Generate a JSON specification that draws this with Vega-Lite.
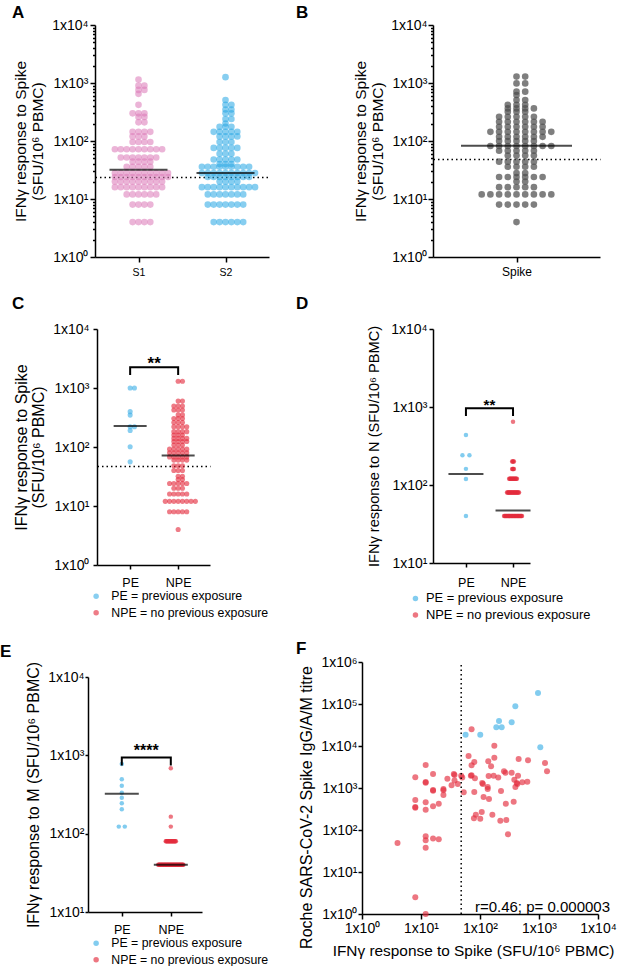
{
"$schema": "https://vega.github.io/schema/vega-lite/v6.json",
"autosize": {"type": "none"},
"padding": {"left": 95, "top": 25, "right": 522, "bottom": 941},
"background": "white",
"columns": 2,
"align": "none",
"bounds": "flush",
"spacing": {"row": 72, "column": 164},
"resolve": {"scale": {"color": "independent"}, "legend": {"color": "independent"}},
"datasets": {
"pts": [
{"p":"A","g":"S1","v":4},{"p":"A","g":"S1","v":4},{"p":"A","g":"S1","v":4},{"p":"A","g":"S1","v":4},
{"p":"A","g":"S1","v":8},{"p":"A","g":"S1","v":8},{"p":"A","g":"S1","v":8},{"p":"A","g":"S1","v":8},
{"p":"A","g":"S1","v":12},{"p":"A","g":"S1","v":12},{"p":"A","g":"S1","v":12},{"p":"A","g":"S1","v":12},{"p":"A","g":"S1","v":12},{"p":"A","g":"S1","v":12},
{"p":"A","g":"S1","v":16},{"p":"A","g":"S1","v":16},{"p":"A","g":"S1","v":16},{"p":"A","g":"S1","v":16},{"p":"A","g":"S1","v":16},{"p":"A","g":"S1","v":16},{"p":"A","g":"S1","v":16},{"p":"A","g":"S1","v":16},{"p":"A","g":"S1","v":16},
{"p":"A","g":"S1","v":20},{"p":"A","g":"S1","v":20},{"p":"A","g":"S1","v":20},{"p":"A","g":"S1","v":20},{"p":"A","g":"S1","v":20},{"p":"A","g":"S1","v":20},{"p":"A","g":"S1","v":20},{"p":"A","g":"S1","v":20},{"p":"A","g":"S1","v":20},
{"p":"A","g":"S1","v":24},{"p":"A","g":"S1","v":24},{"p":"A","g":"S1","v":24},{"p":"A","g":"S1","v":24},{"p":"A","g":"S1","v":24},{"p":"A","g":"S1","v":24},{"p":"A","g":"S1","v":24},{"p":"A","g":"S1","v":24},{"p":"A","g":"S1","v":24},{"p":"A","g":"S1","v":24},
{"p":"A","g":"S1","v":28},{"p":"A","g":"S1","v":28},{"p":"A","g":"S1","v":28},{"p":"A","g":"S1","v":28},{"p":"A","g":"S1","v":28},{"p":"A","g":"S1","v":28},{"p":"A","g":"S1","v":28},{"p":"A","g":"S1","v":28},{"p":"A","g":"S1","v":28},{"p":"A","g":"S1","v":28},
{"p":"A","g":"S1","v":36},{"p":"A","g":"S1","v":36},{"p":"A","g":"S1","v":36},{"p":"A","g":"S1","v":36},{"p":"A","g":"S1","v":36},
{"p":"A","g":"S1","v":44},{"p":"A","g":"S1","v":44},{"p":"A","g":"S1","v":44},{"p":"A","g":"S1","v":44},
{"p":"A","g":"S1","v":52},{"p":"A","g":"S1","v":52},{"p":"A","g":"S1","v":52},{"p":"A","g":"S1","v":52},{"p":"A","g":"S1","v":52},{"p":"A","g":"S1","v":52},{"p":"A","g":"S1","v":52},
{"p":"A","g":"S1","v":72},{"p":"A","g":"S1","v":72},{"p":"A","g":"S1","v":72},{"p":"A","g":"S1","v":72},{"p":"A","g":"S1","v":72},{"p":"A","g":"S1","v":72},{"p":"A","g":"S1","v":72},{"p":"A","g":"S1","v":72},{"p":"A","g":"S1","v":72},
{"p":"A","g":"S1","v":96},{"p":"A","g":"S1","v":96},{"p":"A","g":"S1","v":96},{"p":"A","g":"S1","v":96},
{"p":"A","g":"S1","v":120},{"p":"A","g":"S1","v":120},{"p":"A","g":"S1","v":120},
{"p":"A","g":"S1","v":144},{"p":"A","g":"S1","v":144},{"p":"A","g":"S1","v":144},{"p":"A","g":"S1","v":144},
{"p":"A","g":"S1","v":210},{"p":"A","g":"S1","v":210},{"p":"A","g":"S1","v":260},{"p":"A","g":"S1","v":260},
{"p":"A","g":"S1","v":300},{"p":"A","g":"S1","v":300},{"p":"A","g":"S1","v":300},
{"p":"A","g":"S1","v":420},{"p":"A","g":"S1","v":650},{"p":"A","g":"S1","v":760},{"p":"A","g":"S1","v":760},{"p":"A","g":"S1","v":900},{"p":"A","g":"S1","v":900},{"p":"A","g":"S1","v":1150},
{"p":"A","g":"S2","v":4},{"p":"A","g":"S2","v":4},{"p":"A","g":"S2","v":4},{"p":"A","g":"S2","v":4},{"p":"A","g":"S2","v":4},{"p":"A","g":"S2","v":4},
{"p":"A","g":"S2","v":8},{"p":"A","g":"S2","v":8},{"p":"A","g":"S2","v":8},{"p":"A","g":"S2","v":8},{"p":"A","g":"S2","v":8},{"p":"A","g":"S2","v":8},{"p":"A","g":"S2","v":8},
{"p":"A","g":"S2","v":12},{"p":"A","g":"S2","v":12},{"p":"A","g":"S2","v":12},{"p":"A","g":"S2","v":12},{"p":"A","g":"S2","v":12},{"p":"A","g":"S2","v":12},{"p":"A","g":"S2","v":12},
{"p":"A","g":"S2","v":16},{"p":"A","g":"S2","v":16},{"p":"A","g":"S2","v":16},{"p":"A","g":"S2","v":16},{"p":"A","g":"S2","v":16},{"p":"A","g":"S2","v":16},{"p":"A","g":"S2","v":16},{"p":"A","g":"S2","v":16},{"p":"A","g":"S2","v":16},{"p":"A","g":"S2","v":16},
{"p":"A","g":"S2","v":20},{"p":"A","g":"S2","v":20},{"p":"A","g":"S2","v":20},{"p":"A","g":"S2","v":20},
{"p":"A","g":"S2","v":24},{"p":"A","g":"S2","v":24},{"p":"A","g":"S2","v":24},{"p":"A","g":"S2","v":24},{"p":"A","g":"S2","v":24},{"p":"A","g":"S2","v":24},{"p":"A","g":"S2","v":24},{"p":"A","g":"S2","v":24},
{"p":"A","g":"S2","v":28},{"p":"A","g":"S2","v":28},{"p":"A","g":"S2","v":28},{"p":"A","g":"S2","v":28},{"p":"A","g":"S2","v":28},{"p":"A","g":"S2","v":28},{"p":"A","g":"S2","v":28},{"p":"A","g":"S2","v":28},{"p":"A","g":"S2","v":28},{"p":"A","g":"S2","v":28},
{"p":"A","g":"S2","v":36},{"p":"A","g":"S2","v":36},{"p":"A","g":"S2","v":36},{"p":"A","g":"S2","v":36},{"p":"A","g":"S2","v":36},{"p":"A","g":"S2","v":36},{"p":"A","g":"S2","v":36},{"p":"A","g":"S2","v":36},{"p":"A","g":"S2","v":36},
{"p":"A","g":"S2","v":40},{"p":"A","g":"S2","v":40},{"p":"A","g":"S2","v":40},
{"p":"A","g":"S2","v":48},{"p":"A","g":"S2","v":48},{"p":"A","g":"S2","v":48},{"p":"A","g":"S2","v":48},{"p":"A","g":"S2","v":48},
{"p":"A","g":"S2","v":60},{"p":"A","g":"S2","v":60},{"p":"A","g":"S2","v":60},
{"p":"A","g":"S2","v":76},{"p":"A","g":"S2","v":76},{"p":"A","g":"S2","v":76},{"p":"A","g":"S2","v":76},{"p":"A","g":"S2","v":76},
{"p":"A","g":"S2","v":96},{"p":"A","g":"S2","v":96},{"p":"A","g":"S2","v":96},
{"p":"A","g":"S2","v":120},{"p":"A","g":"S2","v":120},{"p":"A","g":"S2","v":120},{"p":"A","g":"S2","v":120},
{"p":"A","g":"S2","v":144},{"p":"A","g":"S2","v":144},{"p":"A","g":"S2","v":144},{"p":"A","g":"S2","v":144},{"p":"A","g":"S2","v":144},
{"p":"A","g":"S2","v":176},{"p":"A","g":"S2","v":176},{"p":"A","g":"S2","v":176},{"p":"A","g":"S2","v":200},
{"p":"A","g":"S2","v":240},{"p":"A","g":"S2","v":240},{"p":"A","g":"S2","v":300},{"p":"A","g":"S2","v":300},
{"p":"A","g":"S2","v":350},{"p":"A","g":"S2","v":350},{"p":"A","g":"S2","v":420},{"p":"A","g":"S2","v":420},
{"p":"A","g":"S2","v":510},{"p":"A","g":"S2","v":1260},
{"p":"B","g":"Spike","v":4},
{"p":"B","g":"Spike","v":8},{"p":"B","g":"Spike","v":8},{"p":"B","g":"Spike","v":8},{"p":"B","g":"Spike","v":8},{"p":"B","g":"Spike","v":8},
{"p":"B","g":"Spike","v":12},{"p":"B","g":"Spike","v":12},{"p":"B","g":"Spike","v":12},{"p":"B","g":"Spike","v":12},{"p":"B","g":"Spike","v":12},{"p":"B","g":"Spike","v":12},{"p":"B","g":"Spike","v":12},{"p":"B","g":"Spike","v":12},{"p":"B","g":"Spike","v":12},
{"p":"B","g":"Spike","v":16},{"p":"B","g":"Spike","v":16},{"p":"B","g":"Spike","v":16},{"p":"B","g":"Spike","v":16},{"p":"B","g":"Spike","v":16},
{"p":"B","g":"Spike","v":20},{"p":"B","g":"Spike","v":20},
{"p":"B","g":"Spike","v":24},{"p":"B","g":"Spike","v":24},{"p":"B","g":"Spike","v":24},{"p":"B","g":"Spike","v":24},{"p":"B","g":"Spike","v":24},{"p":"B","g":"Spike","v":24},
{"p":"B","g":"Spike","v":28},{"p":"B","g":"Spike","v":28},
{"p":"B","g":"Spike","v":36},{"p":"B","g":"Spike","v":36},{"p":"B","g":"Spike","v":36},{"p":"B","g":"Spike","v":36},
{"p":"B","g":"Spike","v":44},{"p":"B","g":"Spike","v":44},{"p":"B","g":"Spike","v":44},{"p":"B","g":"Spike","v":44},{"p":"B","g":"Spike","v":44},
{"p":"B","g":"Spike","v":56},{"p":"B","g":"Spike","v":56},{"p":"B","g":"Spike","v":56},{"p":"B","g":"Spike","v":56},
{"p":"B","g":"Spike","v":68},{"p":"B","g":"Spike","v":68},{"p":"B","g":"Spike","v":68},{"p":"B","g":"Spike","v":68},{"p":"B","g":"Spike","v":68},
{"p":"B","g":"Spike","v":82},{"p":"B","g":"Spike","v":82},{"p":"B","g":"Spike","v":82},{"p":"B","g":"Spike","v":82},{"p":"B","g":"Spike","v":82},{"p":"B","g":"Spike","v":82},{"p":"B","g":"Spike","v":82},{"p":"B","g":"Spike","v":82},
{"p":"B","g":"Spike","v":100},{"p":"B","g":"Spike","v":100},{"p":"B","g":"Spike","v":100},{"p":"B","g":"Spike","v":100},{"p":"B","g":"Spike","v":100},
{"p":"B","g":"Spike","v":118},{"p":"B","g":"Spike","v":118},{"p":"B","g":"Spike","v":118},{"p":"B","g":"Spike","v":118},{"p":"B","g":"Spike","v":118},{"p":"B","g":"Spike","v":118},
{"p":"B","g":"Spike","v":144},{"p":"B","g":"Spike","v":144},{"p":"B","g":"Spike","v":144},{"p":"B","g":"Spike","v":144},{"p":"B","g":"Spike","v":144},{"p":"B","g":"Spike","v":144},{"p":"B","g":"Spike","v":144},{"p":"B","g":"Spike","v":144},
{"p":"B","g":"Spike","v":176},{"p":"B","g":"Spike","v":176},{"p":"B","g":"Spike","v":176},{"p":"B","g":"Spike","v":176},{"p":"B","g":"Spike","v":176},{"p":"B","g":"Spike","v":176},
{"p":"B","g":"Spike","v":215},{"p":"B","g":"Spike","v":215},{"p":"B","g":"Spike","v":215},{"p":"B","g":"Spike","v":215},{"p":"B","g":"Spike","v":215},{"p":"B","g":"Spike","v":215},
{"p":"B","g":"Spike","v":262},{"p":"B","g":"Spike","v":262},{"p":"B","g":"Spike","v":262},{"p":"B","g":"Spike","v":262},{"p":"B","g":"Spike","v":262},
{"p":"B","g":"Spike","v":320},{"p":"B","g":"Spike","v":320},{"p":"B","g":"Spike","v":320},
{"p":"B","g":"Spike","v":365},{"p":"B","g":"Spike","v":365},{"p":"B","g":"Spike","v":365},{"p":"B","g":"Spike","v":365},
{"p":"B","g":"Spike","v":420},{"p":"B","g":"Spike","v":420},{"p":"B","g":"Spike","v":420},
{"p":"B","g":"Spike","v":510},{"p":"B","g":"Spike","v":510},{"p":"B","g":"Spike","v":620},
{"p":"B","g":"Spike","v":710},{"p":"B","g":"Spike","v":710},{"p":"B","g":"Spike","v":985},{"p":"B","g":"Spike","v":985},
{"p":"B","g":"Spike","v":1290},{"p":"B","g":"Spike","v":1290},
{"p":"C","g":"PE","v":1000},{"p":"C","g":"PE","v":1000},{"p":"C","g":"PE","v":397},{"p":"C","g":"PE","v":347},
{"p":"C","g":"PE","v":220},{"p":"C","g":"PE","v":220},{"p":"C","g":"PE","v":190},{"p":"C","g":"PE","v":101},{"p":"C","g":"PE","v":56},
{"p":"C","g":"NPE","v":4},
{"p":"C","g":"NPE","v":8},{"p":"C","g":"NPE","v":8},{"p":"C","g":"NPE","v":8},{"p":"C","g":"NPE","v":8},{"p":"C","g":"NPE","v":8},
{"p":"C","g":"NPE","v":12},{"p":"C","g":"NPE","v":12},{"p":"C","g":"NPE","v":12},{"p":"C","g":"NPE","v":12},{"p":"C","g":"NPE","v":12},{"p":"C","g":"NPE","v":12},{"p":"C","g":"NPE","v":12},{"p":"C","g":"NPE","v":12},
{"p":"C","g":"NPE","v":16},{"p":"C","g":"NPE","v":16},{"p":"C","g":"NPE","v":16},{"p":"C","g":"NPE","v":16},{"p":"C","g":"NPE","v":16},
{"p":"C","g":"NPE","v":20},{"p":"C","g":"NPE","v":20},{"p":"C","g":"NPE","v":20},
{"p":"C","g":"NPE","v":24},{"p":"C","g":"NPE","v":24},{"p":"C","g":"NPE","v":24},{"p":"C","g":"NPE","v":24},{"p":"C","g":"NPE","v":24},
{"p":"C","g":"NPE","v":28},{"p":"C","g":"NPE","v":28},{"p":"C","g":"NPE","v":32},{"p":"C","g":"NPE","v":32},
{"p":"C","g":"NPE","v":40},{"p":"C","g":"NPE","v":40},{"p":"C","g":"NPE","v":40},
{"p":"C","g":"NPE","v":48},{"p":"C","g":"NPE","v":48},{"p":"C","g":"NPE","v":48},
{"p":"C","g":"NPE","v":60},{"p":"C","g":"NPE","v":60},{"p":"C","g":"NPE","v":60},{"p":"C","g":"NPE","v":60},
{"p":"C","g":"NPE","v":68},{"p":"C","g":"NPE","v":68},{"p":"C","g":"NPE","v":68},{"p":"C","g":"NPE","v":68},{"p":"C","g":"NPE","v":68},
{"p":"C","g":"NPE","v":80},{"p":"C","g":"NPE","v":80},{"p":"C","g":"NPE","v":80},{"p":"C","g":"NPE","v":80},{"p":"C","g":"NPE","v":80},
{"p":"C","g":"NPE","v":92},{"p":"C","g":"NPE","v":92},{"p":"C","g":"NPE","v":92},{"p":"C","g":"NPE","v":92},{"p":"C","g":"NPE","v":92},
{"p":"C","g":"NPE","v":108},{"p":"C","g":"NPE","v":108},{"p":"C","g":"NPE","v":108},
{"p":"C","g":"NPE","v":124},{"p":"C","g":"NPE","v":124},{"p":"C","g":"NPE","v":124},{"p":"C","g":"NPE","v":124},
{"p":"C","g":"NPE","v":140},{"p":"C","g":"NPE","v":140},{"p":"C","g":"NPE","v":140},{"p":"C","g":"NPE","v":140},
{"p":"C","g":"NPE","v":160},{"p":"C","g":"NPE","v":160},{"p":"C","g":"NPE","v":160},
{"p":"C","g":"NPE","v":182},{"p":"C","g":"NPE","v":182},{"p":"C","g":"NPE","v":182},{"p":"C","g":"NPE","v":182},
{"p":"C","g":"NPE","v":220},{"p":"C","g":"NPE","v":220},{"p":"C","g":"NPE","v":220},{"p":"C","g":"NPE","v":220},
{"p":"C","g":"NPE","v":260},{"p":"C","g":"NPE","v":260},{"p":"C","g":"NPE","v":260},
{"p":"C","g":"NPE","v":305},{"p":"C","g":"NPE","v":305},{"p":"C","g":"NPE","v":305},
{"p":"C","g":"NPE","v":350},{"p":"C","g":"NPE","v":350},
{"p":"C","g":"NPE","v":425},{"p":"C","g":"NPE","v":425},{"p":"C","g":"NPE","v":425},
{"p":"C","g":"NPE","v":495},{"p":"C","g":"NPE","v":495},{"p":"C","g":"NPE","v":495},
{"p":"C","g":"NPE","v":600},{"p":"C","g":"NPE","v":600},{"p":"C","g":"NPE","v":1300},{"p":"C","g":"NPE","v":1300},
{"p":"D","g":"PE","v":437},{"p":"D","g":"PE","v":240},{"p":"D","g":"PE","v":240},{"p":"D","g":"PE","v":161},{"p":"D","g":"PE","v":119},{"p":"D","g":"PE","v":40},
{"p":"D","g":"NPE","v":40},{"p":"D","g":"NPE","v":40},{"p":"D","g":"NPE","v":40},{"p":"D","g":"NPE","v":40},{"p":"D","g":"NPE","v":40},{"p":"D","g":"NPE","v":40},{"p":"D","g":"NPE","v":40},{"p":"D","g":"NPE","v":40},{"p":"D","g":"NPE","v":40},{"p":"D","g":"NPE","v":40},
{"p":"D","g":"NPE","v":40},{"p":"D","g":"NPE","v":40},{"p":"D","g":"NPE","v":40},{"p":"D","g":"NPE","v":40},{"p":"D","g":"NPE","v":40},{"p":"D","g":"NPE","v":40},{"p":"D","g":"NPE","v":40},{"p":"D","g":"NPE","v":40},{"p":"D","g":"NPE","v":40},{"p":"D","g":"NPE","v":40},
{"p":"D","g":"NPE","v":40},{"p":"D","g":"NPE","v":40},{"p":"D","g":"NPE","v":40},{"p":"D","g":"NPE","v":40},{"p":"D","g":"NPE","v":40},{"p":"D","g":"NPE","v":40},{"p":"D","g":"NPE","v":40},{"p":"D","g":"NPE","v":40},{"p":"D","g":"NPE","v":40},{"p":"D","g":"NPE","v":40},{"p":"D","g":"NPE","v":40},
{"p":"D","g":"NPE","v":80},{"p":"D","g":"NPE","v":80},{"p":"D","g":"NPE","v":80},{"p":"D","g":"NPE","v":80},{"p":"D","g":"NPE","v":80},{"p":"D","g":"NPE","v":80},{"p":"D","g":"NPE","v":80},{"p":"D","g":"NPE","v":80},{"p":"D","g":"NPE","v":80},{"p":"D","g":"NPE","v":80},
{"p":"D","g":"NPE","v":80},{"p":"D","g":"NPE","v":80},{"p":"D","g":"NPE","v":80},{"p":"D","g":"NPE","v":80},{"p":"D","g":"NPE","v":80},{"p":"D","g":"NPE","v":80},{"p":"D","g":"NPE","v":80},{"p":"D","g":"NPE","v":80},{"p":"D","g":"NPE","v":80},{"p":"D","g":"NPE","v":80},{"p":"D","g":"NPE","v":80},
{"p":"D","g":"NPE","v":120},{"p":"D","g":"NPE","v":120},{"p":"D","g":"NPE","v":120},{"p":"D","g":"NPE","v":120},{"p":"D","g":"NPE","v":120},{"p":"D","g":"NPE","v":120},{"p":"D","g":"NPE","v":120},
{"p":"D","g":"NPE","v":120},{"p":"D","g":"NPE","v":120},{"p":"D","g":"NPE","v":120},{"p":"D","g":"NPE","v":120},{"p":"D","g":"NPE","v":120},{"p":"D","g":"NPE","v":120},{"p":"D","g":"NPE","v":120},
{"p":"D","g":"NPE","v":160},{"p":"D","g":"NPE","v":160},{"p":"D","g":"NPE","v":160},{"p":"D","g":"NPE","v":160},
{"p":"D","g":"NPE","v":200},{"p":"D","g":"NPE","v":200},{"p":"D","g":"NPE","v":200},{"p":"D","g":"NPE","v":200},
{"p":"D","g":"NPE","v":645},
{"p":"E","g":"PE","v":776},{"p":"E","g":"PE","v":495},{"p":"E","g":"PE","v":408},{"p":"E","g":"PE","v":333},{"p":"E","g":"PE","v":288},
{"p":"E","g":"PE","v":245},{"p":"E","g":"PE","v":205},{"p":"E","g":"PE","v":123},{"p":"E","g":"PE","v":123},
{"p":"E","g":"NPE","v":40},{"p":"E","g":"NPE","v":40},{"p":"E","g":"NPE","v":40},{"p":"E","g":"NPE","v":40},{"p":"E","g":"NPE","v":40},{"p":"E","g":"NPE","v":40},{"p":"E","g":"NPE","v":40},{"p":"E","g":"NPE","v":40},{"p":"E","g":"NPE","v":40},{"p":"E","g":"NPE","v":40},
{"p":"E","g":"NPE","v":40},{"p":"E","g":"NPE","v":40},{"p":"E","g":"NPE","v":40},{"p":"E","g":"NPE","v":40},{"p":"E","g":"NPE","v":40},{"p":"E","g":"NPE","v":40},{"p":"E","g":"NPE","v":40},{"p":"E","g":"NPE","v":40},{"p":"E","g":"NPE","v":40},{"p":"E","g":"NPE","v":40},
{"p":"E","g":"NPE","v":40},{"p":"E","g":"NPE","v":40},{"p":"E","g":"NPE","v":40},{"p":"E","g":"NPE","v":40},{"p":"E","g":"NPE","v":40},{"p":"E","g":"NPE","v":40},{"p":"E","g":"NPE","v":40},{"p":"E","g":"NPE","v":40},{"p":"E","g":"NPE","v":40},{"p":"E","g":"NPE","v":40},
{"p":"E","g":"NPE","v":40},{"p":"E","g":"NPE","v":40},{"p":"E","g":"NPE","v":40},{"p":"E","g":"NPE","v":40},{"p":"E","g":"NPE","v":40},{"p":"E","g":"NPE","v":40},{"p":"E","g":"NPE","v":40},{"p":"E","g":"NPE","v":40},{"p":"E","g":"NPE","v":40},{"p":"E","g":"NPE","v":40},
{"p":"E","g":"NPE","v":40},{"p":"E","g":"NPE","v":40},{"p":"E","g":"NPE","v":40},
{"p":"E","g":"NPE","v":80},{"p":"E","g":"NPE","v":80},{"p":"E","g":"NPE","v":80},{"p":"E","g":"NPE","v":80},{"p":"E","g":"NPE","v":80},{"p":"E","g":"NPE","v":80},{"p":"E","g":"NPE","v":80},{"p":"E","g":"NPE","v":80},{"p":"E","g":"NPE","v":80},
{"p":"E","g":"NPE","v":80},{"p":"E","g":"NPE","v":80},{"p":"E","g":"NPE","v":80},{"p":"E","g":"NPE","v":80},{"p":"E","g":"NPE","v":80},{"p":"E","g":"NPE","v":80},{"p":"E","g":"NPE","v":80},{"p":"E","g":"NPE","v":80},{"p":"E","g":"NPE","v":80},
{"p":"E","g":"NPE","v":123},{"p":"E","g":"NPE","v":165},{"p":"E","g":"NPE","v":684}
],
"med": [
{"p":"A","g":"S1","m":32},{"p":"A","g":"S2","m":28},
{"p":"B","g":"Spike","m":83},
{"p":"C","g":"PE","m":227},{"p":"C","g":"NPE","m":72},
{"p":"D","g":"PE","m":138},{"p":"D","g":"NPE","m":47},
{"p":"E","g":"PE","m":324},{"p":"E","g":"NPE","m":40}
],
"brk": [
{"p":"C","g":"PE","v":1660,"k":1},{"p":"C","g":"PE","v":2240,"k":2},{"p":"C","g":"NPE","v":2240,"k":3},{"p":"C","g":"NPE","v":1660,"k":4},
{"p":"D","g":"PE","v":769,"k":1},{"p":"D","g":"PE","v":966,"k":2},{"p":"D","g":"NPE","v":966,"k":3},{"p":"D","g":"NPE","v":769,"k":4},
{"p":"E","g":"PE","v":741,"k":1},{"p":"E","g":"PE","v":935,"k":2},{"p":"E","g":"NPE","v":935,"k":3},{"p":"E","g":"NPE","v":741,"k":4}
],
"sig": [
{"p":"C","g":"PE","t":"**","v":2090},
{"p":"D","g":"PE","t":"**","v":926},
{"p":"E","g":"PE","t":"****","v":991},
{"p":"F","t":"r=0.46; p= 0.000003","x":82,"y":1.12}
],
"thr": [{"p":"F","x":48}],
"sc": [
{"g":"NPE","s":72,"t":24900},{"g":"NPE","s":175,"t":10200},{"g":"NPE","s":64,"t":5780},{"g":"NPE","s":175,"t":5270},
{"g":"NPE","s":138,"t":4320},{"g":"NPE","s":80,"t":4180},{"g":"NPE","s":72,"t":3470},{"g":"NPE","s":154,"t":3280},
{"g":"NPE","s":452,"t":4900},{"g":"NPE","s":651,"t":4560},{"g":"NPE","s":1264,"t":3940},{"g":"NPE","s":1367,"t":2500},
{"g":"NPE","s":12,"t":3530},{"g":"NPE","s":8,"t":1800},{"g":"NPE","s":16,"t":2150},{"g":"NPE","s":12,"t":1390},
{"g":"NPE","s":12,"t":1330},{"g":"NPE","s":28,"t":1670},{"g":"NPE","s":36,"t":2150},{"g":"NPE","s":37,"t":2050},
{"g":"NPE","s":48,"t":1970},{"g":"NPE","s":50,"t":1780},{"g":"NPE","s":37,"t":1500},{"g":"NPE","s":33,"t":1160},
{"g":"NPE","s":16,"t":865},{"g":"NPE","s":16,"t":900},{"g":"NPE","s":24,"t":946},{"g":"NPE","s":24,"t":880},
{"g":"NPE","s":42,"t":1250},{"g":"NPE","s":24,"t":681},{"g":"NPE","s":53,"t":789},{"g":"NPE","s":70,"t":1970},
{"g":"NPE","s":72,"t":2020},{"g":"NPE","s":82,"t":1700},{"g":"NPE","s":109,"t":1315},{"g":"NPE","s":112,"t":1250},
{"g":"NPE","s":135,"t":1057},{"g":"NPE","s":135,"t":946},{"g":"NPE","s":140,"t":1930},{"g":"NPE","s":170,"t":1970},
{"g":"NPE","s":204,"t":1780},{"g":"NPE","s":255,"t":2500},{"g":"NPE","s":270,"t":2300},{"g":"NPE","s":344,"t":2320},
{"g":"NPE","s":441,"t":1970},{"g":"NPE","s":382,"t":1580},{"g":"NPE","s":420,"t":1315},{"g":"NPE","s":430,"t":1250},
{"g":"NPE","s":398,"t":1057},{"g":"NPE","s":634,"t":1410},{"g":"NPE","s":521,"t":1365},{"g":"NPE","s":227,"t":849},
{"g":"NPE","s":80,"t":804},{"g":"NPE","s":115,"t":611},{"g":"NPE","s":142,"t":547},{"g":"NPE","s":85,"t":232},
{"g":"NPE","s":79,"t":190},{"g":"NPE","s":101,"t":186},{"g":"NPE","s":107,"t":268},{"g":"NPE","s":162,"t":232},
{"g":"NPE","s":221,"t":167},{"g":"NPE","s":279,"t":173},{"g":"NPE","s":274,"t":423},{"g":"NPE","s":372,"t":473},
{"g":"NPE","s":298,"t":79},{"g":"NPE","s":8,"t":518},{"g":"NPE","s":8,"t":353},{"g":"NPE","s":8,"t":340},
{"g":"NPE","s":12,"t":456},{"g":"NPE","s":12,"t":304},{"g":"NPE","s":16,"t":366},{"g":"NPE","s":20,"t":423},
{"g":"NPE","s":12,"t":71},{"g":"NPE","s":12,"t":57},{"g":"NPE","s":16,"t":63},{"g":"NPE","s":20,"t":60},
{"g":"NPE","s":12,"t":38},{"g":"NPE","s":4,"t":49},{"g":"NPE","s":8,"t":2.5},{"g":"NPE","s":12,"t":1},
{"g":"PE","s":962,"t":183000},{"g":"PE","s":397,"t":88000},{"g":"PE","s":344,"t":36700},{"g":"PE","s":210,"t":39400},
{"g":"PE","s":189,"t":27900},{"g":"PE","s":233,"t":27900},{"g":"PE","s":101,"t":18600},{"g":"PE","s":57,"t":18600},
{"g":"PE","s":1052,"t":9300}
]
},
"concat": [
{
"width": 174, "height": 232,
"title": {"text": "A", "dx": -83, "dy": 8},
"layer": [
{
"data": {"name": "pts"},
"transform": [
{"filter": "datum.p == 'A'"},
{"window": [{"op": "row_number", "as": "k"}], "groupby": ["g", "v"]},
{"calculate": "(datum.k % 2 == 0 ? datum.k / 2 : (1 - datum.k) / 2) * 5.9", "as": "o"}
],
"mark": {"type": "circle", "size": 44, "opacity": 0.56},
"encoding": {
"x": {"field": "g", "type": "nominal", "scale": {"type": "point", "domain": ["S1", "S2"], "padding": 0.5}, "axis": {"title": null, "labelAngle": 0, "labelFontSize": 10.5, "tickSize": 5, "labelPadding": 5}},
"xOffset": {"field": "o", "type": "quantitative", "scale": {"domain": [-100, 100], "range": [-100, 100]}},
"y": {"field": "v", "type": "quantitative", "scale": {"type": "log", "domain": [1, 10000]}, "axis": {
"title": ["IFNγ response to Spike", "(SFU/10⁶ PBMC)"], "titleFontSize": 15.5, "titleLineHeight": 17, "titlePadding": 6,
"labelFontSize": 14, "labelPadding": 2,
"values": [1,2,3,4,5,6,7,8,9,10,20,30,40,50,60,70,80,90,100,200,300,400,500,600,700,800,900,1000,2000,3000,4000,5000,6000,7000,8000,9000,10000,24],
"labelExpr": "indexof([1,10,100,1000,10000], datum.value) >= 0 ? '1x10' + ['⁰','¹','²','³','⁴'][indexof([1,10,100,1000,10000], datum.value)] : ''",
"tickSize": {"condition": {"test": "indexof([1,10,100,1000,10000], datum.value) < 0", "value": 2.5}, "value": 5},
"tickOpacity": {"condition": {"test": "datum.value == 24", "value": 0}, "value": 1},
"grid": true,
"gridOpacity": {"condition": {"test": "datum.value == 24", "value": 1}, "value": 0},
"gridColor": "black", "gridDash": [1.5, 3], "gridWidth": 1.5}},
"color": {"field": "g", "type": "nominal", "scale": {"domain": ["S1", "S2"], "range": ["#dc79b8", "#29a8e4"]}, "legend": null}
}
},
{
"data": {"name": "med"},
"transform": [{"filter": "datum.p == 'A'"}],
"mark": {"type": "tick", "size": 58, "thickness": 2, "color": "black", "orient": "horizontal"},
"encoding": {"x": {"field": "g", "type": "nominal"}, "y": {"field": "m", "type": "quantitative"}}
}
]
},
{
"width": 167, "height": 232,
"title": {"text": "B", "dx": -137, "dy": 8},
"layer": [
{
"data": {"name": "pts"},
"transform": [
{"filter": "datum.p == 'B'"},
{"window": [{"op": "row_number", "as": "k"}], "groupby": ["g", "v"]},
{"calculate": "(datum.k % 2 == 0 ? datum.k / 2 : (1 - datum.k) / 2) * 8.7", "as": "o"}
],
"mark": {"type": "circle", "size": 44, "opacity": 0.72},
"encoding": {
"x": {"field": "g", "type": "nominal", "scale": {"type": "point", "domain": ["Spike"], "padding": 0.5}, "axis": {"title": null, "labelAngle": 0, "labelFontSize": 12, "tickSize": 5, "labelPadding": 4}},
"xOffset": {"field": "o", "type": "quantitative", "scale": {"domain": [-100, 100], "range": [-100, 100]}},
"y": {"field": "v", "type": "quantitative", "scale": {"type": "log", "domain": [1, 10000]}, "axis": {
"title": ["IFNγ response to Spike", "(SFU/10⁶ PBMC)"], "titleFontSize": 15.5, "titleLineHeight": 17, "titlePadding": 5,
"labelFontSize": 14, "labelPadding": 1,
"values": [1,2,3,4,5,6,7,8,9,10,20,30,40,50,60,70,80,90,100,200,300,400,500,600,700,800,900,1000,2000,3000,4000,5000,6000,7000,8000,9000,10000,48],
"labelExpr": "indexof([1,10,100,1000,10000], datum.value) >= 0 ? '1x10' + ['⁰','¹','²','³','⁴'][indexof([1,10,100,1000,10000], datum.value)] : ''",
"tickSize": {"condition": {"test": "indexof([1,10,100,1000,10000], datum.value) < 0", "value": 2.5}, "value": 5},
"tickOpacity": {"condition": {"test": "datum.value == 48", "value": 0}, "value": 1},
"grid": true,
"gridOpacity": {"condition": {"test": "datum.value == 48", "value": 1}, "value": 0},
"gridColor": "black", "gridDash": [1.5, 3], "gridWidth": 1.5}},
"color": {"value": "#4d4d4d"}
}
},
{
"data": {"name": "med"},
"transform": [{"filter": "datum.p == 'B'"}],
"mark": {"type": "tick", "size": 111, "thickness": 2, "color": "black", "orient": "horizontal"},
"encoding": {"x": {"field": "g", "type": "nominal"}, "y": {"field": "m", "type": "quantitative"}}
}
]
},
{
"width": 174, "height": 236,
"title": {"text": "C", "dx": -83, "dy": -5},
"layer": [
{
"data": {"name": "pts"},
"transform": [
{"filter": "datum.p == 'C'"},
{"window": [{"op": "row_number", "as": "k"}], "groupby": ["g", "v"]},
{"calculate": "(datum.k % 2 == 0 ? datum.k / 2 : (1 - datum.k) / 2) * 4.3", "as": "o"}
],
"mark": {"type": "circle", "size": 26, "opacity": 0.62},
"encoding": {
"x": {"field": "g", "type": "nominal", "scale": {"type": "point", "domain": ["PE", "NPE"], "range": [2, 115], "padding": 0.677, "align": 0.51}, "axis": {"title": null, "labelAngle": 0, "labelFontSize": 12.5, "tickSize": 4, "labelPadding": 7}},
"xOffset": {"field": "o", "type": "quantitative", "scale": {"domain": [-100, 100], "range": [-100, 100]}},
"y": {"field": "v", "type": "quantitative", "scale": {"type": "log", "domain": [1, 10000]}, "axis": {
"offset": -2,
"title": ["IFNγ response to Spike", "(SFU/10⁶ PBMC)"], "titleFontSize": 16, "titleLineHeight": 17, "titlePadding": 6,
"labelFontSize": 14, "labelPadding": 4, "tickSize": 4,
"values": [1,10,100,1000,10000,48],
"labelExpr": "indexof([1,10,100,1000,10000], datum.value) >= 0 ? '1x10' + ['⁰','¹','²','³','⁴'][indexof([1,10,100,1000,10000], datum.value)] : ''",
"tickOpacity": {"condition": {"test": "datum.value == 48", "value": 0}, "value": 1},
"grid": true,
"gridOpacity": {"condition": {"test": "datum.value == 48", "value": 1}, "value": 0},
"gridColor": "black", "gridDash": [1.5, 3], "gridWidth": 1.5}},
"color": {"field": "g", "type": "nominal", "scale": {"domain": ["PE", "NPE"], "range": ["#3fb0e6", "#e42c3e"]}, "legend": {
"orient": "none", "legendX": -5, "legendY": 261, "title": null, "symbolType": "circle", "symbolSize": 30, "symbolStrokeWidth": 0,
"labelFontSize": 12.3, "labelOffset": 9, "rowPadding": 3.5, "padding": 0, "labelLimit": 300,
"labelExpr": "datum.label == 'PE' ? 'PE = previous exposure' : 'NPE = no previous exposure'"}}
}
},
{
"data": {"name": "med"},
"transform": [{"filter": "datum.p == 'C'"}],
"mark": {"type": "tick", "size": 33, "thickness": 2, "color": "black", "orient": "horizontal"},
"encoding": {"x": {"field": "g", "type": "nominal"}, "y": {"field": "m", "type": "quantitative"}}
},
{
"data": {"name": "brk"},
"transform": [{"filter": "datum.p == 'C'"}],
"mark": {"type": "line", "color": "black", "strokeWidth": 2},
"encoding": {"x": {"field": "g", "type": "nominal"}, "y": {"field": "v", "type": "quantitative"}, "order": {"field": "k"}}
},
{
"data": {"name": "sig"},
"transform": [{"filter": "datum.p == 'C'"}],
"mark": {"type": "text", "fontSize": 17, "fontWeight": "bold", "dx": 24, "baseline": "alphabetic", "align": "center", "color": "black"},
"encoding": {"x": {"field": "g", "type": "nominal"}, "y": {"field": "v", "type": "quantitative"}, "text": {"field": "t"}}
}
]
},
{
"width": 97, "height": 234,
"title": {"text": "D", "dx": -137, "dy": -5},
"layer": [
{
"data": {"name": "pts"},
"transform": [
{"filter": "datum.p == 'D'"},
{"window": [{"op": "row_number", "as": "k"}, {"op": "count", "as": "n"}], "groupby": ["g", "v"], "frame": [null, null]},
{"calculate": "(datum.k - (datum.n + 1) / 2) * (datum.g == 'PE' ? 7 : 0.6)", "as": "o"}
],
"mark": {"type": "circle", "size": 20, "opacity": 0.65},
"encoding": {
"x": {"field": "g", "type": "nominal", "scale": {"type": "point", "domain": ["PE", "NPE"], "padding": 0.53, "align": 0.66}, "axis": {"title": null, "labelAngle": 0, "labelFontSize": 12.5, "tickSize": 4, "labelPadding": 9}},
"xOffset": {"field": "o", "type": "quantitative", "scale": {"domain": [-100, 100], "range": [-100, 100]}},
"y": {"field": "v", "type": "quantitative", "scale": {"type": "log", "domain": [10, 10000]}, "axis": {
"title": "IFNγ response to N (SFU/10⁶ PBMC)", "titleFontSize": 14.6, "titlePadding": 9,
"labelFontSize": 14, "labelPadding": 2, "tickSize": 4,
"values": [10,100,1000,10000],
"labelExpr": "'1x10' + ['⁰','¹','²','³','⁴'][indexof([1,10,100,1000,10000], datum.value)]"}},
"color": {"field": "g", "type": "nominal", "scale": {"domain": ["PE", "NPE"], "range": ["#3fb0e6", "#e42c3e"]}, "legend": {
"orient": "none", "legendX": -24, "legendY": 263, "title": null, "symbolType": "circle", "symbolSize": 30, "symbolStrokeWidth": 0,
"labelFontSize": 12.9, "labelOffset": 4, "rowPadding": 2.5, "padding": 0, "labelLimit": 300,
"labelExpr": "datum.label == 'PE' ? 'PE = previous exposure' : 'NPE = no previous exposure'"}}
}
},
{
"data": {"name": "med"},
"transform": [{"filter": "datum.p == 'D'"}],
"mark": {"type": "tick", "size": 35, "thickness": 2, "color": "black", "orient": "horizontal"},
"encoding": {"x": {"field": "g", "type": "nominal"}, "y": {"field": "m", "type": "quantitative"}}
},
{
"data": {"name": "brk"},
"transform": [{"filter": "datum.p == 'D'"}],
"mark": {"type": "line", "color": "black", "strokeWidth": 2},
"encoding": {"x": {"field": "g", "type": "nominal"}, "y": {"field": "v", "type": "quantitative"}, "order": {"field": "k"}}
},
{
"data": {"name": "sig"},
"transform": [{"filter": "datum.p == 'D'"}],
"mark": {"type": "text", "fontSize": 15, "fontWeight": "bold", "dx": 23.5, "baseline": "alphabetic", "align": "center", "color": "black"},
"encoding": {"x": {"field": "g", "type": "nominal"}, "y": {"field": "v", "type": "quantitative"}, "text": {"field": "t"}}
}
]
},
{
"width": 103, "height": 275,
"title": {"text": "E", "dx": -95, "dy": 28},
"layer": [
{
"data": {"name": "pts"},
"transform": [
{"filter": "datum.p == 'E'"},
{"window": [{"op": "row_number", "as": "k"}, {"op": "count", "as": "n"}], "groupby": ["g", "v"], "frame": [null, null]},
{"calculate": "(datum.k - (datum.n + 1) / 2) * (datum.g == 'PE' ? 6 : 0.6)", "as": "o"}
],
"mark": {"type": "circle", "size": 20, "opacity": 0.65},
"encoding": {
"x": {"field": "g", "type": "nominal", "scale": {"type": "point", "domain": ["PE", "NPE"], "range": [-7, 107], "padding": 0.663, "align": 0.52}, "axis": {"title": null, "labelAngle": 0, "labelFontSize": 12.5, "tickSize": 4, "labelPadding": 7}},
"xOffset": {"field": "o", "type": "quantitative", "scale": {"domain": [-100, 100], "range": [-100, 100]}},
"y": {"field": "v", "type": "quantitative", "scale": {"type": "log", "domain": [10, 10000], "range": [275, 40]}, "axis": {
"offset": 7,
"title": "IFNγ response to M (SFU/10⁶ PBMC)", "titleFontSize": 16, "titlePadding": 6,
"labelFontSize": 14, "labelPadding": 1, "tickSize": 3,
"values": [10,100,1000,10000],
"labelExpr": "'1x10' + ['⁰','¹','²','³','⁴'][indexof([1,10,100,1000,10000], datum.value)]"}},
"color": {"field": "g", "type": "nominal", "scale": {"domain": ["PE", "NPE"], "range": ["#3fb0e6", "#e42c3e"]}, "legend": {
"orient": "none", "legendX": -5, "legendY": 300, "title": null, "symbolType": "circle", "symbolSize": 30, "symbolStrokeWidth": 0,
"labelFontSize": 12.3, "labelOffset": 9, "rowPadding": 3.5, "padding": 0, "labelLimit": 300,
"labelExpr": "datum.label == 'PE' ? 'PE = previous exposure' : 'NPE = no previous exposure'"}}
}
},
{
"data": {"name": "med"},
"transform": [{"filter": "datum.p == 'E'"}],
"mark": {"type": "tick", "size": 34, "thickness": 2, "color": "black", "orient": "horizontal"},
"encoding": {"x": {"field": "g", "type": "nominal"}, "y": {"field": "m", "type": "quantitative"}}
},
{
"data": {"name": "brk"},
"transform": [{"filter": "datum.p == 'E'"}],
"mark": {"type": "line", "color": "black", "strokeWidth": 2},
"encoding": {"x": {"field": "g", "type": "nominal"}, "y": {"field": "v", "type": "quantitative"}, "order": {"field": "k"}}
},
{
"data": {"name": "sig"},
"transform": [{"filter": "datum.p == 'E'"}],
"mark": {"type": "text", "fontSize": 16, "fontWeight": "bold", "dx": 24.5, "baseline": "alphabetic", "align": "center", "color": "black"},
"encoding": {"x": {"field": "g", "type": "nominal"}, "y": {"field": "v", "type": "quantitative"}, "text": {"field": "t"}}
}
]
},
{
"width": 165, "height": 277,
"title": {"text": "F", "dx": -137, "dy": 25},
"layer": [
{
"data": {"name": "sc"},
"mark": {"type": "circle", "size": 36, "opacity": 0.65},
"encoding": {
"x": {"field": "s", "type": "quantitative", "scale": {"type": "log", "domain": [1, 10000], "range": [-71, 165]}, "axis": {
"title": "IFNγ response to Spike (SFU/10⁶ PBMC)", "titleFontSize": 15.4, "titlePadding": 8, "titleX": 40,
"values": [1,10,100,1000,10000], "labelFontSize": 14, "tickSize": 5, "labelPadding": 2,
"labelExpr": "'1x10' + ['⁰','¹','²','³','⁴'][indexof([1,10,100,1000,10000], datum.value)]"}},
"y": {"field": "t", "type": "quantitative", "scale": {"type": "log", "domain": [1, 1000000], "range": [277, 25]}, "axis": {
"offset": 71,
"title": "Roche SARS-CoV-2 Spike IgG/A/M titre", "titleFontSize": 16, "titlePadding": 6, "titleY": 170,
"values": [1,10,100,1000,10000,100000,1000000], "labelFontSize": 14, "tickSize": 4, "labelPadding": 1,
"labelExpr": "'1x10' + ['⁰','¹','²','³','⁴','⁵','⁶'][indexof([1,10,100,1000,10000,100000,1000000], datum.value)]"}},
"color": {"field": "g", "type": "nominal", "scale": {"domain": ["PE", "NPE"], "range": ["#3fb0e6", "#e42c3e"]}, "legend": null}
}
},
{
"data": {"name": "thr"},
"mark": {"type": "rule", "color": "black", "strokeWidth": 1.5, "strokeDash": [1.5, 3]},
"encoding": {"x": {"field": "x", "type": "quantitative"}, "y": {"datum": 1}, "y2": {"datum": 1000000}}
},
{
"data": {"name": "sig"},
"transform": [{"filter": "datum.p == 'F'"}],
"mark": {"type": "text", "fontSize": 15, "align": "left", "baseline": "alphabetic", "color": "black"},
"encoding": {"x": {"field": "x", "type": "quantitative"}, "y": {"field": "y", "type": "quantitative"}, "text": {"field": "t"}}
}
]
}
],
"config": {
"font": "Liberation Sans",
"view": {"stroke": null},
"axis": {"domainColor": "black", "domainWidth": 1.5, "tickColor": "black", "tickWidth": 1.5, "labelColor": "black", "titleColor": "black", "titleFontWeight": "normal", "labelFont": "Liberation Sans", "titleFont": "Liberation Sans", "grid": false, "labelOverlap": false, "labelFlush": false},
"legend": {"labelFont": "Liberation Sans", "labelColor": "black", "labelLimit": 300},
"title": {"fontSize": 17, "fontWeight": "bold", "anchor": "start", "frame": "group", "offset": 0, "baseline": "alphabetic", "color": "black", "font": "Liberation Sans"}
}
}
